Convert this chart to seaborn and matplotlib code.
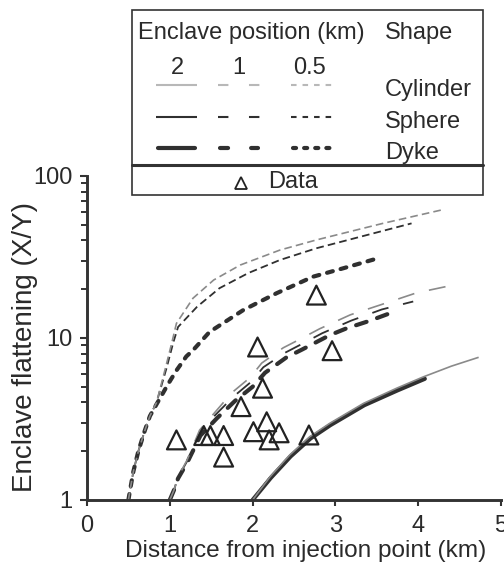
import numpy as np
import pandas as pd
import matplotlib
matplotlib.use("Agg")
import matplotlib.pyplot as plt
import seaborn as sns
from matplotlib.lines import Line2D
from matplotlib.patches import Rectangle
from matplotlib.ticker import LogLocator, NullFormatter, FixedLocator

# ---------------- data ----------------
# enclave position 0.5 km
cyl05_d = [0.50, 0.52, 0.56, 0.62, 0.70, 0.76, 0.84, 0.95, 1.03, 1.08, 1.28, 1.53, 1.85, 2.33, 2.77, 3.58, 4.30]
cyl05_y = [1.0, 1.15, 1.5, 2.0, 2.7, 3.3, 4.0, 6.6, 9.6, 12.3, 17.6, 22.8, 28.2, 34.9, 40.3, 51.1, 62.0]
sph05_d = [0.50, 0.52, 0.56, 0.62, 0.70, 0.76, 0.84, 0.96, 1.04, 1.10, 1.33, 1.60, 1.95, 2.33, 2.77, 3.38, 3.92]
sph05_y = [1.0, 1.15, 1.5, 2.0, 2.7, 3.3, 4.0, 6.5, 9.3, 11.7, 15.6, 20.3, 25.2, 30.3, 35.8, 43.2, 51.0]
dyk05_d = [0.50, 0.52, 0.56, 0.62, 0.70, 0.76, 0.84, 0.98, 1.08, 1.20, 1.28, 1.48, 1.89, 2.29, 2.73, 3.09, 3.47]
dyk05_y = [1.0, 1.15, 1.5, 2.0, 2.7, 3.3, 3.9, 5.2, 6.3, 7.7, 8.4, 10.9, 14.9, 18.9, 23.9, 26.9, 30.6]

# enclave position 1 km
cyl1_d = [1.00, 1.05, 1.10, 1.21, 1.36, 1.55, 1.75, 1.97, 2.11, 2.37, 2.55, 2.81, 3.18, 3.59, 3.98, 4.40]
cyl1_y = [1.0, 1.15, 1.39, 1.77, 2.7, 3.5, 4.6, 5.7, 7.0, 8.7, 9.7, 11.4, 13.9, 16.3, 19.0, 21.1]
sph1_d = [1.00, 1.05, 1.10, 1.21, 1.36, 1.55, 1.77, 1.98, 2.13, 2.39, 2.58, 2.84, 3.19, 3.56, 3.94]
sph1_y = [1.0, 1.15, 1.38, 1.74, 2.6, 3.35, 4.35, 5.35, 6.6, 8.1, 9.1, 10.7, 12.8, 15.0, 16.8]
dyk1_d = [1.00, 1.05, 1.10, 1.21, 1.37, 1.57, 1.79, 2.00, 2.15, 2.41, 2.60, 2.93, 3.14, 3.40, 3.64]
dyk1_y = [1.0, 1.15, 1.36, 1.70, 2.5, 3.2, 4.1, 5.0, 6.1, 7.6, 8.5, 10.4, 11.5, 12.7, 14.1]

# enclave position 2 km
cyl2_d = [2.00, 2.21, 2.45, 2.69, 2.93, 3.34, 3.74, 4.06, 4.40, 4.73]
cyl2_y = [1.0, 1.39, 1.90, 2.46, 2.97, 3.95, 4.90, 5.75, 6.70, 7.60]
sph2_d = [2.00, 2.21, 2.45, 2.69, 2.93, 3.34, 3.74, 4.05]
sph2_y = [1.0, 1.38, 1.88, 2.43, 2.93, 3.88, 4.80, 5.60]
dyk2_d = [2.00, 2.22, 2.46, 2.70, 2.94, 3.35, 3.75, 4.08]
dyk2_y = [1.0, 1.37, 1.86, 2.40, 2.90, 3.85, 4.75, 5.60]

# measured data
data_x = [1.08, 1.41, 1.49, 1.65, 1.65, 1.86, 2.06, 2.12, 2.01, 2.17, 2.20, 2.32, 2.68, 2.77, 2.96]
data_y = [2.35, 2.50, 2.50, 2.50, 1.84, 3.77, 8.80, 4.90, 2.64, 3.04, 2.35, 2.60, 2.52, 18.4, 8.35]

x_ticks = [0, 1, 2, 3, 4, 5]
y_ticks = [1, 10, 100]
y_ticklabels = ["1", "10", "100"]
positions = ["2", "1", "0.5"]
shapes = ["Cylinder", "Sphere", "Dyke"]

# ---------------- style ----------------
sns.set_style("ticks")
plt.rcParams['font.family'] = ['Liberation Sans', 'DejaVu Sans']
plt.rcParams['lines.scale_dashes'] = False

W, H = 504, 564
FS = 17
TXT = '#2a2a2a'
AX = '#333333'
GRAY = '#8a8a8a'
LGRAY = '#b8b8b8'
DARK = '#303030'

fig = plt.figure(figsize=(W / 100, H / 100), dpi=100)
ax = fig.add_axes([87 / W, 1 - 500 / H, 414 / W, 324 / H])

short_thin = (5.5, 3.0)
short_thick = (4.3, 5.8)
long_thin = (12.2, 10.8)
long_thick = (7.9, 8.0)

curves = [
    (dyk05_d, dyk05_y, DARK, 3.0, short_thick, 'round'),
    (sph05_d, sph05_y, DARK, 1.3, short_thin, 'butt'),
    (cyl05_d, cyl05_y, GRAY, 1.2, short_thin, 'butt'),
    (dyk1_d, dyk1_y, DARK, 3.0, long_thick, 'round'),
    (sph1_d, sph1_y, DARK, 1.3, long_thin, 'butt'),
    (cyl1_d, cyl1_y, GRAY, 1.2, long_thin, 'butt'),
    (dyk2_d, dyk2_y, DARK, 3.0, None, 'round'),
    (sph2_d, sph2_y, DARK, 1.3, None, 'butt'),
    (cyl2_d, cyl2_y, GRAY, 1.2, None, 'butt'),
]
for d, y, c, lw, dash, cap in curves:
    df = pd.DataFrame({"d": d, "y": y})
    sns.lineplot(data=df, x="d", y="y", ax=ax, color=c, linewidth=lw,
                 sort=False, estimator=None)
    ln = ax.lines[-1]
    if dash is not None:
        ln.set_dashes(dash)
    ln.set_dash_capstyle(cap)
    ln.set_solid_capstyle(cap)
    ln.set_solid_joinstyle('round')

pts = pd.DataFrame({"x": data_x, "y": data_y})
sns.scatterplot(data=pts, x="x", y="y", ax=ax, marker='^', s=185,
                facecolor='none', edgecolor='#222222', linewidth=1.6, zorder=5)
ax.collections[-1].set_facecolor('none')

ax.set_yscale('log')
ax.set_xlim(0, 5)
ax.set_ylim(1, 100)
ax.xaxis.set_major_locator(FixedLocator(x_ticks))
ax.set_xticklabels([str(t) for t in x_ticks])
ax.yaxis.set_major_locator(FixedLocator(y_ticks))
ax.set_yticklabels(y_ticklabels)
ax.yaxis.set_minor_locator(LogLocator(base=10, subs=np.arange(2, 10)))
ax.yaxis.set_minor_formatter(NullFormatter())

sns.despine(ax=ax)
for s in ['left', 'bottom']:
    ax.spines[s].set_linewidth(2.1)
    ax.spines[s].set_color(AX)
ax.tick_params(axis='x', which='major', direction='out', length=4, width=1.5,
               color=AX, labelsize=FS, labelcolor=TXT, pad=6.5)
ax.tick_params(axis='y', which='major', direction='out', length=5, width=1.5,
               color=AX, labelsize=FS, labelcolor=TXT, pad=5.5)
ax.tick_params(axis='y', which='minor', direction='out', length=4, width=1.4, color=AX)

ax.set_xlabel("Distance from injection point (km)", fontsize=17.6, color=TXT)
ax.xaxis.label.set_va('baseline')
ax.xaxis.set_label_coords((305.5 - 87) / 414, (500 - 557) / 324)
ax.set_ylabel("Enclave flattening (X/Y)", fontsize=20, color=TXT)
ax.yaxis.label.set_va('center')
ax.yaxis.set_label_coords((25 - 87) / 414, (500 - 347) / 324)

# ---------------- legend table (figure pixel coordinates) ----------------
def fx(x):
    return x / W

def fy(y):
    return 1 - y / H

box = Rectangle((fx(132), fy(195)), (483 - 132) / W, (195 - 10) / H,
                transform=fig.transFigure, facecolor='white', edgecolor=AX,
                linewidth=1.2, zorder=10)
fig.add_artist(box)
fig.add_artist(Line2D([fx(132), fx(483)], [fy(165), fy(165)], transform=fig.transFigure,
                      color=AX, linewidth=2.2, zorder=11))

fig.text(fx(138), fy(39), "Enclave position (km)", fontsize=FS, color=TXT,
         ha='left', va='baseline', zorder=12)
fig.text(fx(385), fy(39), "Shape", fontsize=FS, color=TXT, ha='left', va='baseline', zorder=12)
for lab, cx in zip(positions, [177, 239, 310]):
    fig.text(fx(cx), fy(74), lab, fontsize=FS, color=TXT, ha='center', va='baseline', zorder=12)
for lab, by in zip(shapes, [96, 128, 159]):
    fig.text(fx(385), fy(by), lab, fontsize=FS, color=TXT, ha='left', va='baseline', zorder=12)

rows = [(85, LGRAY, 1.5, 'butt'), (117, DARK, 1.5, 'butt'), (148, DARK, 3.0, 'round')]
for ry, c, lw, cap in rows:
    thick = cap == 'round'
    segs = [
        ((158, 195) if thick else (156, 197), None),
        ((220, 258) if thick else (218, 260), (5.8, 16.6) if thick else (7.5, 14.8)),
        ((293, 330) if thick else (291, 332), (2.2, 5.8) if thick else (4.0, 4.3)),
    ]
    for (x0, x1), dash in segs:
        ln = Line2D([fx(x0), fx(x1)], [fy(ry), fy(ry)], transform=fig.transFigure,
                    color=c, linewidth=lw, zorder=12)
        if dash is not None:
            ln.set_dashes(dash)
        ln.set_dash_capstyle(cap)
        ln.set_solid_capstyle(cap)
        fig.add_artist(ln)

fig.add_artist(Line2D([fx(241)], [fy(183)], transform=fig.transFigure, marker='^',
                      markersize=9, markerfacecolor='none', markeredgecolor='#222222',
                      markeredgewidth=1.3, linestyle='none', zorder=12))
fig.text(fx(268), fy(188), "Data", fontsize=FS, color=TXT, ha='left', va='baseline', zorder=12)

fig.savefig("out.png", dpi=100)
